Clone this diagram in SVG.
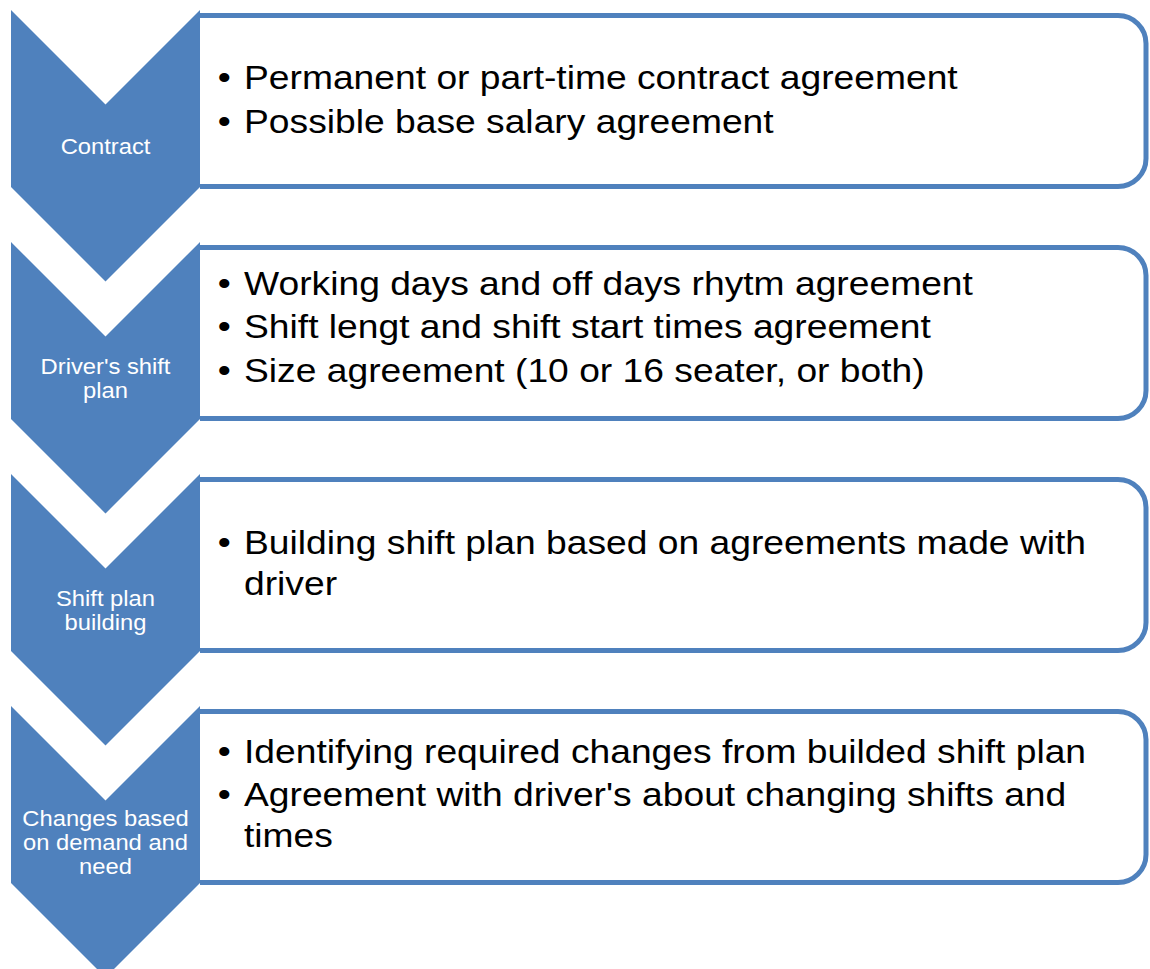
<svg xmlns="http://www.w3.org/2000/svg" width="1150" height="969" viewBox="0 0 1150 969">
  <style>
    .chev { fill: #4F81BD; }
    .box { fill: #FFFFFF; stroke: #4F81BD; stroke-width: 5; }
    .lbl { font-family: "Liberation Sans", Arial, sans-serif; font-size: 22px; fill: #FFFFFF; text-anchor: middle; }
    .item { font-family: "Liberation Sans", Arial, sans-serif; font-size: 34px; fill: #000000; }
  </style>
  <rect width="1150" height="969" fill="#FFFFFF"/>

  <!-- Step 1: Contract -->
  <g id="step-contract">
    <path class="box" d="M200,15.5 H1118 A28,28 0 0 1 1146,43.5 V158.5 A28,28 0 0 1 1118,186.5 H200"/>
    <path class="chev" d="M11,10 L105.5,104.5 L200,10 L200,187 L105.5,281.5 L11,187 Z"/>
    <g transform="translate(105.5 0) scale(1.08 1)">
      <text class="lbl" x="0" y="154">Contract</text>
    </g>
    <g transform="translate(244 0) scale(1.095 1)">
      <text class="item" x="-24" y="89">•</text>
      <text class="item" x="0" y="89">Permanent or part-time contract agreement</text>
      <text class="item" x="-24" y="133">•</text>
      <text class="item" x="0" y="133">Possible base salary agreement</text>
    </g>
  </g>

  <!-- Step 2: Driver's shift plan -->
  <g id="step-drivers-shift-plan">
    <path class="box" d="M200,247.5 H1118 A28,28 0 0 1 1146,275.5 V390.5 A28,28 0 0 1 1118,418.5 H200"/>
    <path class="chev" d="M11,242 L105.5,336.5 L200,242 L200,419 L105.5,513.5 L11,419 Z"/>
    <g transform="translate(105.5 0) scale(1.08 1)">
      <text class="lbl" x="0" y="374">Driver's shift</text>
      <text class="lbl" x="0" y="398">plan</text>
    </g>
    <g transform="translate(244 0) scale(1.095 1)">
      <text class="item" x="-24" y="295">•</text>
      <text class="item" x="0" y="295">Working days and off days rhytm agreement</text>
      <text class="item" x="-24" y="338.5">•</text>
      <text class="item" x="0" y="338.5">Shift lengt and shift start times agreement</text>
      <text class="item" x="-24" y="382">•</text>
      <text class="item" x="0" y="382">Size agreement (10 or 16 seater, or both)</text>
    </g>
  </g>

  <!-- Step 3: Shift plan building -->
  <g id="step-shift-plan-building">
    <path class="box" d="M200,479.5 H1118 A28,28 0 0 1 1146,507.5 V622.5 A28,28 0 0 1 1118,650.5 H200"/>
    <path class="chev" d="M11,474 L105.5,568.5 L200,474 L200,651 L105.5,745.5 L11,651 Z"/>
    <g transform="translate(105.5 0) scale(1.08 1)">
      <text class="lbl" x="0" y="606">Shift plan</text>
      <text class="lbl" x="0" y="630">building</text>
    </g>
    <g transform="translate(244 0) scale(1.095 1)">
      <text class="item" x="-24" y="554.5">•</text>
      <text class="item" x="0" y="554.5">Building shift plan based on agreements made with</text>
      <text class="item" x="0" y="595.5">driver</text>
    </g>
  </g>

  <!-- Step 4: Changes based on demand and need -->
  <g id="step-changes">
    <path class="box" d="M200,711.5 H1118 A28,28 0 0 1 1146,739.5 V854.5 A28,28 0 0 1 1118,882.5 H200"/>
    <path class="chev" d="M11,706 L105.5,800.5 L200,706 L200,883 L105.5,977.5 L11,883 Z"/>
    <g transform="translate(105.5 0) scale(1.08 1)">
      <text class="lbl" x="0" y="826">Changes based</text>
      <text class="lbl" x="0" y="850">on demand and</text>
      <text class="lbl" x="0" y="874">need</text>
    </g>
    <g transform="translate(244 0) scale(1.095 1)">
      <text class="item" x="-24" y="763">•</text>
      <text class="item" x="0" y="763">Identifying required changes from builded shift plan</text>
      <text class="item" x="-24" y="806">•</text>
      <text class="item" x="0" y="806">Agreement with driver's about changing shifts and</text>
      <text class="item" x="0" y="847">times</text>
    </g>
  </g>
</svg>
